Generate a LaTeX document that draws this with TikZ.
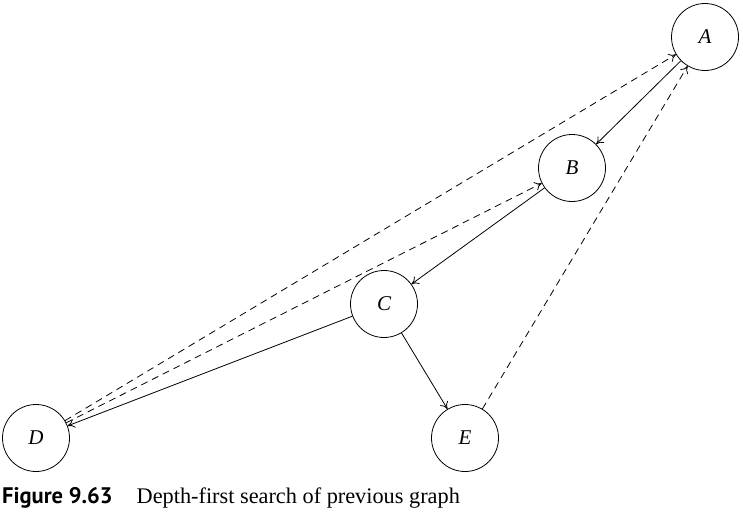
\documentclass[tikz,border=0pt]{standalone}
\usepackage{fontspec}
\setmainfont{Liberation Serif}
\newfontfamily\capsans{PT Sans}
\usetikzlibrary{arrows.meta}
\begin{document}
\begin{tikzpicture}[x=1pt,y=-1pt,
  vtx/.style={draw,circle,minimum size=67pt,inner sep=0pt,line width=0.8pt,font=\fontsize{21}{24}\selectfont\itshape},
  tree/.style={line width=0.8pt,-{To[length=7pt,width=9pt]}},
  back/.style={line width=0.8pt,dashed,dash pattern=on 7pt off 5pt,-{To[length=7pt,width=9pt]}}]
\useasboundingbox (0,0) rectangle (743,522);
\node[vtx] (A) at (705,37) {A};
\node[vtx] (B) at (572,168) {B};
\node[vtx] (C) at (384,304) {C};
\node[vtx] (D) at (36,438) {D};
\node[vtx] (E) at (465,438) {E};
\draw[tree] (A) -- (B);
\draw[tree] (B) -- (C);
\draw[tree] (C) -- (D);
\draw[tree] (C) -- (E);
\draw[back] (D) -- (A);
\draw[back] (D) -- (B);
\draw[back] (E) -- (A);
\node[anchor=base west,inner sep=0pt] (cap) at (2,503) {{\capsans\bfseries\fontsize{22.5}{26}\selectfont Figure 9.63}\hspace{24pt}{\fontsize{22.3}{26}\selectfont Depth-first search of previous graph}};
\end{tikzpicture}
\end{document}
